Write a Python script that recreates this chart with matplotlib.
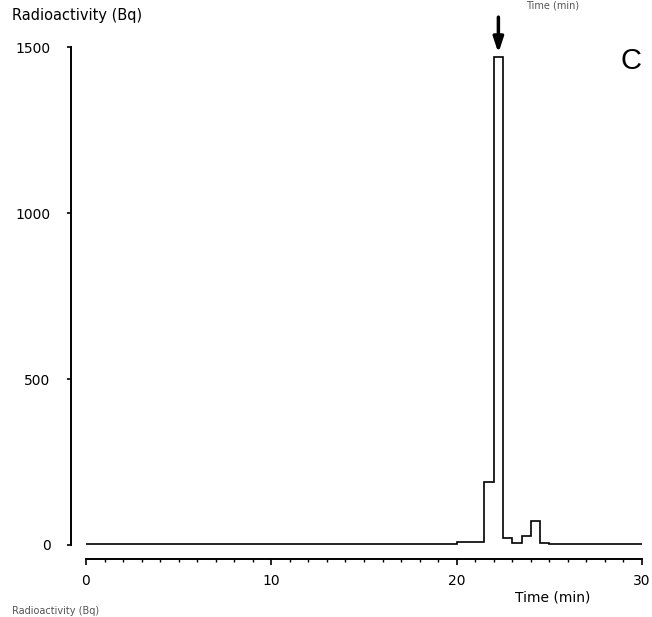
import numpy as np
import matplotlib
matplotlib.use("Agg")
import matplotlib.pyplot as plt
from matplotlib.ticker import MultipleLocator

plt.rcParams["font.family"] = ["DejaVu Sans"]

# radioactivity per 0.5 min fraction (Bq)
bin_width = 0.5
counts = ([2] * 35 + [4] * 5 + [8] * 3
          + [190, 1470, 22, 5, 27, 73, 6]
          + [3] * 10)
edges = np.arange(0, bin_width * (len(counts) + 1), bin_width)
x_ticks = [0, 10, 20, 30]
y_ticks = [0, 500, 1000, 1500]
peak_time = 22.25

fig = plt.figure(figsize=(6.52, 6.17), dpi=100)
ax = fig.add_axes([0.1319, 0.1167, 0.8528, 0.8071])

ax.stairs(counts, edges, baseline=None, color="black", lw=1.2)

ax.set_xlim(0, 30)
ax.set_ylim(0, 1500)
ax.set_xticks(x_ticks)
ax.set_yticks(y_ticks)
ax.xaxis.set_minor_locator(MultipleLocator(1))

for s in ["top", "right"]:
    ax.spines[s].set_visible(False)
# offsets in points (dpi 100): ~15 px and ~14 px
ax.spines["left"].set_position(("outward", 10.5))
ax.spines["bottom"].set_position(("outward", 10))
ax.spines["left"].set_linewidth(1.4)
ax.spines["bottom"].set_linewidth(1.4)

ax.tick_params(axis="x", which="major", direction="out", length=4, width=1.2,
               pad=7, labelsize=10)
ax.tick_params(axis="x", which="minor", direction="out", length=2, width=1)
ax.tick_params(axis="y", direction="out", length=3, width=1.2, pad=12,
               labelsize=10)

# arrow marking the peak
ax.annotate("", xy=(peak_time, 1482), xytext=(peak_time, 1590),
            annotation_clip=False,
            arrowprops=dict(arrowstyle="-|>,head_length=0.9,head_width=0.3",
                            color="black", lw=2.5, shrinkA=0, shrinkB=0))

fig.text(0.018, 0.975, "Radioactivity (Bq)", fontsize=10.5, ha="left",
         va="center")
fig.text(0.848, 0.031, "Time (min)", fontsize=10, ha="center", va="center")
fig.text(0.968, 0.901, "C", fontsize=21, ha="center", va="center",
         family="Liberation Sans")

# fragments of neighbouring panels at the crop edges
fig.text(0.848, 0.999, "Time (min)", fontsize=7, ha="center", va="top",
         color="#555555")
fig.text(0.018, 0.002, "Radioactivity (Bq)", fontsize=7, ha="left",
         va="bottom", color="#555555")

fig.savefig("out.png", dpi=100)
